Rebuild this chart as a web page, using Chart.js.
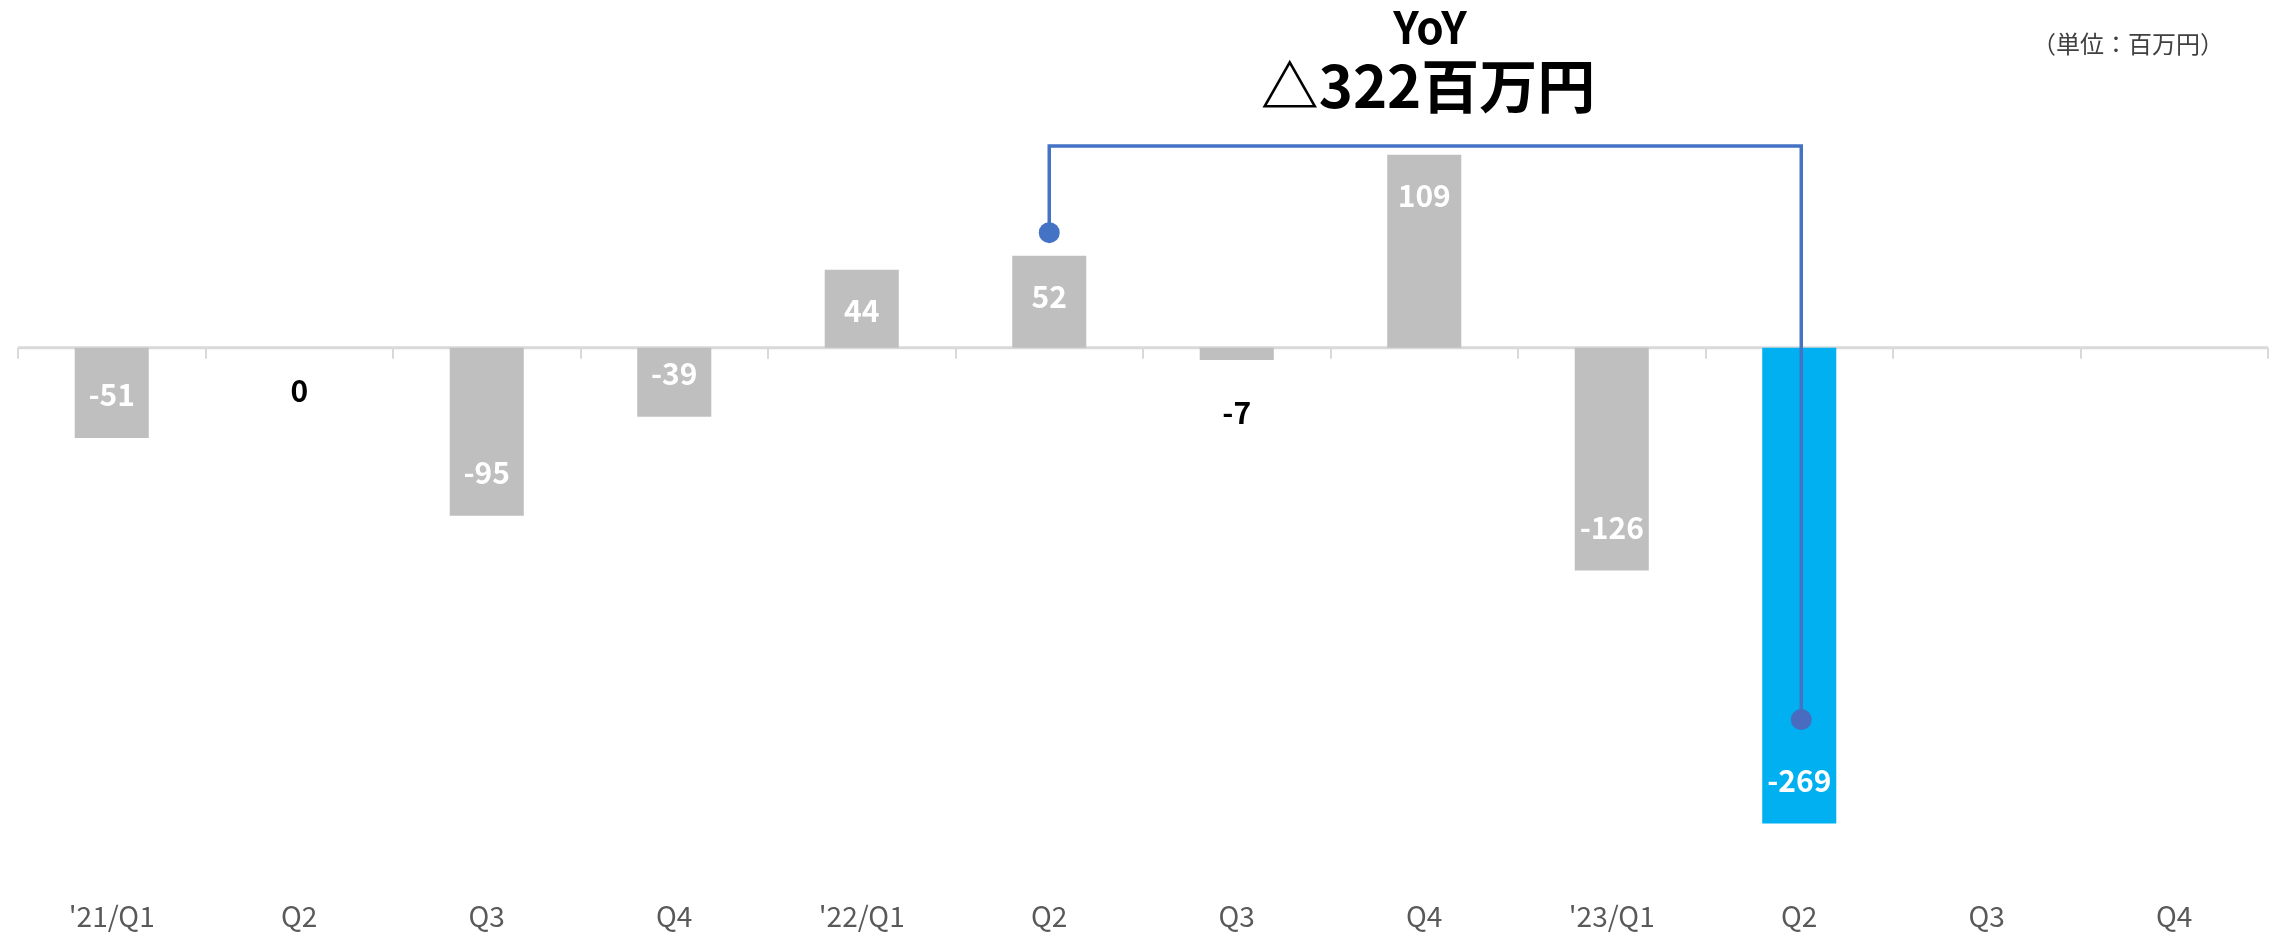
<!DOCTYPE html>
<html>
<head>
<meta charset="utf-8">
<script src="https://cdn.jsdelivr.net/npm/chart.js@4"></script>
<style>
  html, body { margin: 0; padding: 0; background: #fff; }
  #wrap { width: 2283px; height: 940px; position: relative; }
</style>
</head>
<body>
<div id="wrap"><canvas id="bars"></canvas></div>
<script>
// data
let quarters = ["'21/Q1", "Q2", "Q3", "Q4", "'22/Q1", "Q2", "Q3", "Q4", "'23/Q1", "Q2", "Q3", "Q4"];
let profit = [-51, 0, -95, -39, 44, 52, -7, 109, -126, -269, null, null];
let barColors = ["#bfbfbf", "#bfbfbf", "#bfbfbf", "#bfbfbf", "#bfbfbf", "#bfbfbf", "#bfbfbf", "#bfbfbf", "#bfbfbf", "#00b0f0", "#bfbfbf", "#bfbfbf"];
let yoyFrom = 5, yoyTo = 9, yoyLevel = 114;
let titleTop = "YoY";
let titleMain = "△322百万円";
let unitText = "（単位：百万円）";
let FONT = "'Noto Sans CJK JP', 'Noto Sans', sans-serif";

// zero line + category ticks
const zeroAxis = {
    id: 'zeroAxis',
    beforeDatasetsDraw(chart) {
        let c = chart.ctx, a = chart.chartArea;
        let y0 = chart.scales.y.getPixelForValue(0);
        let step = (a.right - a.left) / quarters.length;
        c.save();
        c.strokeStyle = '#d9d9d9';
        c.lineWidth = 3;
        c.beginPath();
        c.moveTo(a.left, y0);
        c.lineTo(a.right, y0);
        c.stroke();
        c.lineWidth = 2;
        for (let i = 0; i <= quarters.length; i++) {
            let x = Math.round(a.left + i * step);
            c.beginPath();
            c.moveTo(x, y0);
            c.lineTo(x, y0 + 11);
            c.stroke();
        }
        c.restore();
    }
};

// value labels, connector, texts
const extras = {
    id: 'extras',
    afterDatasetsDraw(chart) {
        let c = chart.ctx;
        let meta = chart.getDatasetMeta(0);
        let y0 = chart.scales.y.getPixelForValue(0);
        c.save();
        c.textAlign = 'center';
        c.textBaseline = 'middle';
        c.font = 'bold 30px ' + FONT;
        profit.forEach((v, i) => {
            if (v === null) return;
            let bar = meta.data[i];
            let h = Math.abs(bar.y - y0);
            let y, col;
            if (h >= 60) {
                y = v > 0 ? bar.y + 41 : bar.y - 43;
                col = '#ffffff';
            } else {
                y = bar.y + 43 + (h > 0 ? 10 : 0);
                col = '#000000';
            }
            c.fillStyle = col;
            c.fillText(String(v), bar.x, y);
        });

        // YoY connector
        let b1 = meta.data[yoyFrom], b2 = meta.data[yoyTo];
        let yTop = chart.scales.y.getPixelForValue(yoyLevel);
        let d1 = b1.y - 23, d2 = b2.y - 104;
        c.strokeStyle = '#4472c4';
        c.fillStyle = '#4472c4';
        c.lineWidth = 3.5;
        c.beginPath();
        c.moveTo(b1.x, d1);
        c.lineTo(b1.x, yTop);
        c.lineTo(b2.x + 2, yTop);
        c.lineTo(b2.x + 2, d2);
        c.stroke();
        c.beginPath();
        c.arc(b1.x, d1, 10.5, 0, Math.PI * 2);
        c.fill();
        c.fillStyle = '#4a6cc0';
        c.beginPath();
        c.arc(b2.x + 2, d2, 10.5, 0, Math.PI * 2);
        c.fill();

        // titles
        c.fillStyle = '#000000';
        c.font = 'bold 44px ' + FONT;
        c.fillText(titleTop, 1430, 27);
        c.font = 'bold 58px ' + FONT;
        c.fillText(titleMain, 1428, 86);
        c.fillStyle = '#404040';
        c.font = '24px ' + FONT;
        c.fillText(unitText, 2128, 44);
        c.restore();
    }
};

function createChart() {
    let ctx = document.getElementById('bars').getContext('2d');
    new Chart(ctx, {
        type: 'bar',
        data: {
            labels: quarters,
            datasets: [{
                data: profit,
                backgroundColor: barColors,
                borderWidth: 0,
                categoryPercentage: 1,
                barPercentage: 0.395
            }]
        },
        options: {
            responsive: true,
            maintainAspectRatio: false,
            animation: false,
            layout: { padding: { top: 100, left: 18, right: 15, bottom: -14 } },
            plugins: { legend: { display: false }, tooltip: { enabled: false } },
            scales: {
                x: {
                    grid: { display: false, drawTicks: false },
                    border: { display: false },
                    ticks: { color: '#595959', font: { family: FONT, size: 28 }, padding: 21, maxRotation: 0 }
                },
                y: {
                    display: false,
                    min: -300,
                    max: 140
                }
            }
        },
        plugins: [zeroAxis, extras]
    });
}

document.addEventListener('DOMContentLoaded', () => {
    createChart();
});
</script>
</body>
</html>
